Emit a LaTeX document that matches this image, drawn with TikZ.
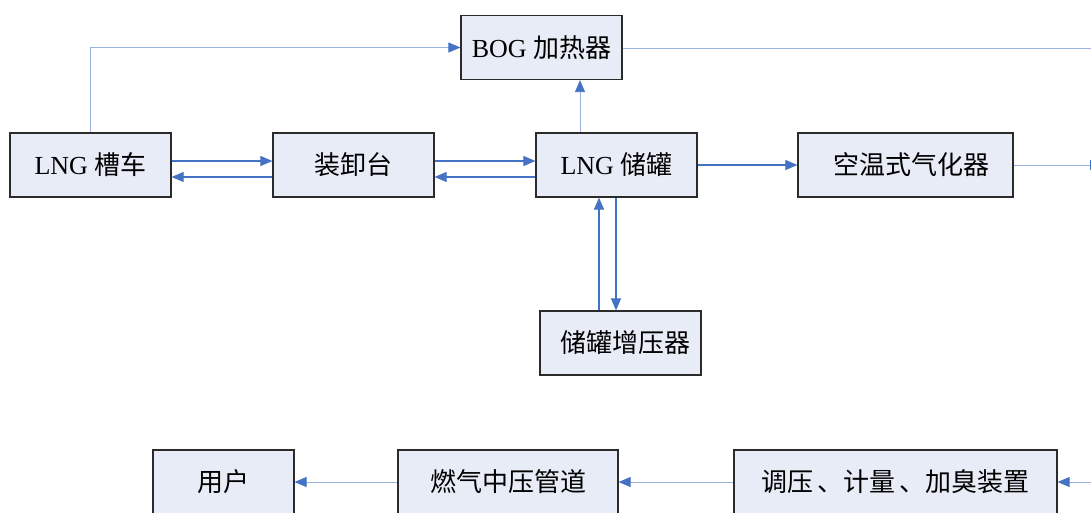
\documentclass[tikz,border=0pt]{standalone}
\usepackage{fontspec}
\setmainfont{Liberation Serif}
\newfontfamily\cjk{Noto Sans CJK SC}
\usetikzlibrary{arrows.meta}
\definecolor{boxfill}{HTML}{E7ECF6}
\definecolor{boxline}{HTML}{2B2B2B}
\definecolor{arrblue}{HTML}{4472C4}
\definecolor{thinblue}{HTML}{9AB2DE}
\begin{document}
\begin{tikzpicture}[x=1pt,y=-1pt,
  blk/.style={draw=boxline, fill=boxfill, line width=1.2pt, minimum height=64pt, inner sep=0pt,
    font=\fontsize{26}{30}\selectfont},
  tip/.style={-{Triangle[length=12pt,width=10pt,color=arrblue]}},
  arr/.style={draw=arrblue, line width=1.1pt, tip},
  thinarr/.style={draw=thinblue, line width=0.8pt, tip},
  thinline/.style={draw=thinblue, line width=0.8pt}]
\clip (0,0) rectangle (1091,512);
\fill[white] (0,0) rectangle (1091,512);
% boxes
\node[blk, minimum width=161pt] (bog) at (541.5,47.5) {BOG {\cjk 加热器}};
\node[blk, minimum width=161pt] (car) at (90.5,165) {LNG {\cjk 槽车}};
\node[blk, minimum width=161pt] (dock) at (353.5,165) {\cjk 装卸台};
\node[blk, minimum width=161pt] (tank) at (616.5,165) {LNG {\cjk 储罐}};
\node[blk, minimum width=215pt] (vap) at (905.5,165) {\cjk \hspace{12pt}空温式气化器};
\node[blk, minimum width=161pt] (boost) at (620.5,343) {\cjk \hspace{10pt}储罐增压器};
\node[blk, minimum width=141pt] (user) at (223.5,482) {\cjk 用户};
\node[blk, minimum width=220pt] (pipe) at (508,482) {\cjk 燃气中压管道};
\node[blk, minimum width=323pt] (reg) at (895.5,482) {\cjk 调压\,、计量\,、加臭装置};
% free ends at the right edge
\coordinate (e1) at (1100,48);
\coordinate (e2) at (1102,165);
\coordinate (e3) at (1100,482);
% connectors
\draw[thinarr] (car.north) |- (bog.west);
\draw[thinline] (bog.east |- e1) -- (e1);
\draw[thinarr] ([xshift=-36.5pt]tank.north) -- ([xshift=38.5pt]bog.south);
\draw[arr] ([yshift=4pt]car.east) -- ([yshift=4pt]dock.west);
\draw[arr] ([yshift=-12pt]dock.west) -- ([yshift=-12pt]car.east);
\draw[arr] ([yshift=4pt]dock.east) -- ([yshift=4pt]tank.west);
\draw[arr] ([yshift=-12pt]tank.west) -- ([yshift=-12pt]dock.east);
\draw[arr] (tank.east) -- (vap.west);
\draw[thinarr] (vap.east) -- (e2);
\draw[arr] ([xshift=-21.5pt]boost.north) -- ([xshift=-17.5pt]tank.south);
\draw[arr] ([xshift=-0.5pt]tank.south) -- ([xshift=-4.5pt]boost.north);
\draw[thinarr] (e3) -- (reg.east);
\draw[thinarr] (reg.west) -- (pipe.east);
\draw[thinarr] (pipe.west) -- (user.east);
\end{tikzpicture}
\end{document}
